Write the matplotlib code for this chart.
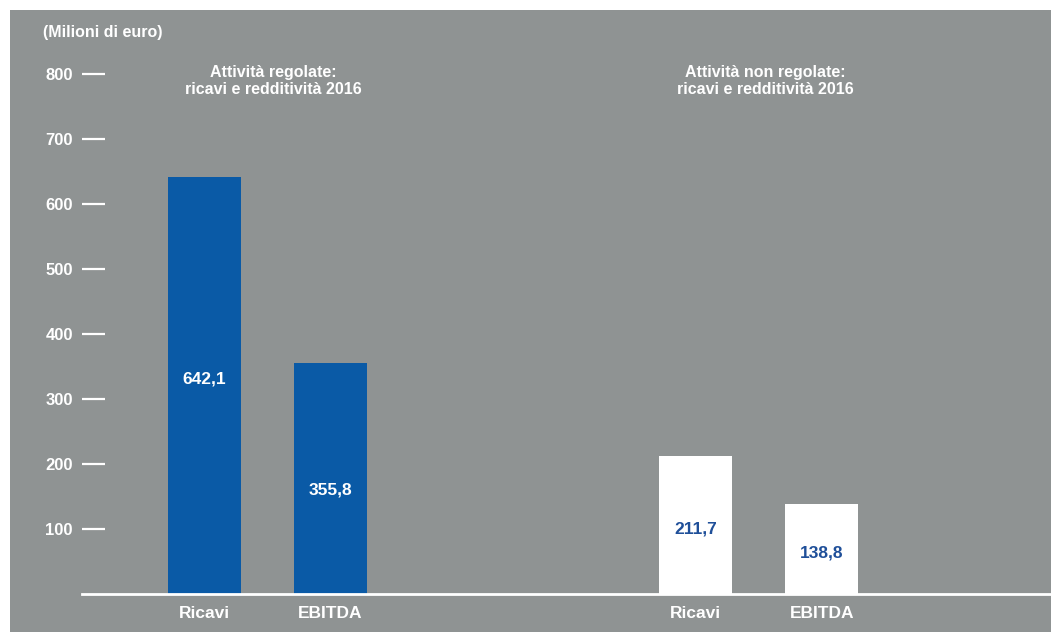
import matplotlib
matplotlib.use("Agg")
import matplotlib.pyplot as plt
from matplotlib.patches import Rectangle

# ---- data ----
groups = ["Attività regolate:\nricavi e redditività 2016",
          "Attività non regolate:\nricavi e redditività 2016"]
categories = ["Ricavi", "EBITDA"]
values_regolate = [642.1, 355.8]
values_non_regolate = [211.7, 138.8]
value_labels_regolate = ["642,1", "355,8"]
value_labels_non_regolate = ["211,7", "138,8"]
yticks = [100, 200, 300, 400, 500, 600, 700, 800]
unit_label = "(Milioni di euro)"

# ---- style ----
W, H = 1051, 632
BG = "#8f9393"
BLUE = "#0a5aa6"
TXT_BLUE = "#1f4f99"
FONT = "Liberation Sans"
plt.rcParams["font.family"] = [FONT, "DejaVu Sans"]
plt.rcParams["font.weight"] = "bold"

fig = plt.figure(figsize=(W / 100, H / 100), dpi=100, facecolor="white")
fig.patches.append(Rectangle((10 / W, 0), 1 - 10 / W, (H - 10) / H,
                             transform=fig.transFigure, facecolor=BG,
                             edgecolor="none", zorder=-10))

left_px, right_px = 82, 1051
top_px, base_px = 74, 594
ax = fig.add_axes([left_px / W, (H - base_px) / H,
                   (right_px - left_px) / W, (base_px - top_px) / H])
ax.set_zorder(5)
ax.set_facecolor("none")
ax.patch.set_visible(False)
ax.set_ylim(0, 800)
unit = 126.0
x0 = (left_px - 204.5) / unit
ax.set_xlim(x0, x0 + (right_px - left_px) / unit)

group_gap = 3.9
bar_w = 0.58
label_frac = [[0.515, 0.45], [0.47, 0.45]]
series = [values_regolate, values_non_regolate]
lab_series = [value_labels_regolate, value_labels_non_regolate]
bar_colors = [BLUE, "white"]
text_colors = ["white", TXT_BLUE]

xt, xl = [], []
for g, (vals, labs) in enumerate(zip(series, lab_series)):
    xs = [g * group_gap + i for i in range(len(vals))]
    ax.bar(xs, vals, width=bar_w, color=bar_colors[g], edgecolor="none", zorder=2)
    for i, (x, v, lb) in enumerate(zip(xs, vals, labs)):
        ax.text(x, v * label_frac[g][i], lb, ha="center", va="center",
                color=text_colors[g], fontsize=12.5, fontweight="bold", zorder=3)
    ax.text(sum(xs) / len(xs) + 0.05, 789, groups[g], ha="center", va="center",
            color="white", fontsize=11.5, fontweight="bold",
            linespacing=1.2, clip_on=False)
    xt += xs
    xl += categories

ax.set_xticks(xt)
ax.set_xticklabels(xl, color="white", fontsize=12.5, fontweight="bold")
ax.tick_params(axis="x", length=0, pad=9)

ax.set_yticks(yticks)
ax.set_yticklabels([str(t) for t in yticks], color="white", fontsize=12,
                   fontweight="bold")
ax.tick_params(axis="y", direction="in", length=16.5, width=1.6, color="white",
               pad=6.5)

for s in ["top", "right", "left"]:
    ax.spines[s].set_visible(False)
ax.spines["bottom"].set_color("white")
ax.spines["bottom"].set_linewidth(2)
ax.spines["bottom"].set_zorder(4)

fig.text(43 / W, 1 - 33 / H, unit_label, ha="left", va="center",
         color="white", fontsize=11.5, fontweight="bold")

fig.savefig("out.png", dpi=100, facecolor="white")
